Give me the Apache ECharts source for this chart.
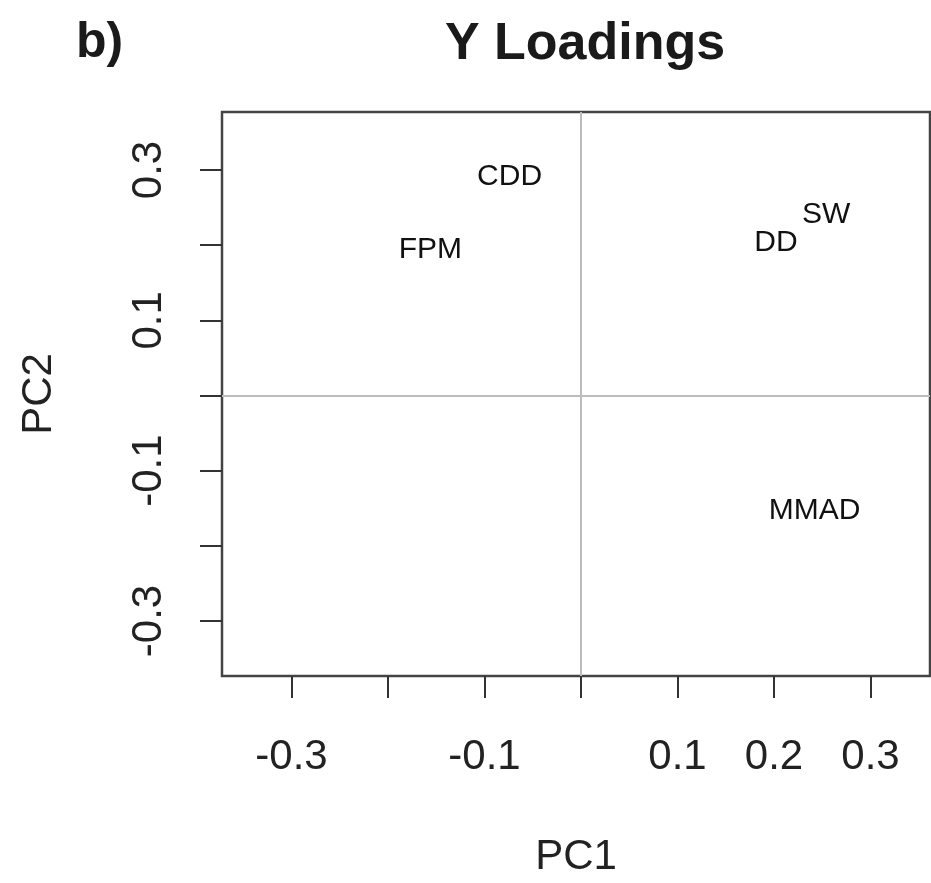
<!DOCTYPE html>
<html>
<head>
<meta charset="utf-8">
<script src="https://cdn.jsdelivr.net/npm/echarts@6/dist/echarts.min.js"></script>
<style>html,body{margin:0;padding:0;background:#fff}#c{width:931px;height:883px}</style>
</head>
<body>
<div id="c"></div>
<script>
// Data
const names = ['CDD', 'FPM', 'SW', 'DD', 'MMAD'];
const pc1 = [-0.074, -0.156, 0.254, 0.202, 0.242];
const pc2 = [0.291, 0.194, 0.241, 0.203, -0.153];
const tickValues = [-0.3, -0.2, -0.1, 0, 0.1, 0.2, 0.3];
const xLabelValues = [-0.3, -0.1, 0.1, 0.2, 0.3];
const yLabelValues = [-0.3, -0.1, 0.1, 0.3];

const chart = echarts.init(document.getElementById('c'), null, {renderer: 'canvas'});
const font = 'Liberation Sans, Arial, Helvetica, sans-serif';
const pts = names.map((n, i) => ({name: n, value: [pc1[i], pc2[i]]}));

chart.setOption({
  animation: false,
  backgroundColor: '#fff',
  title: {
    text: 'Y Loadings', left: 580, top: 14, textAlign: 'center',
    textStyle: {fontFamily: font, fontSize: 52, fontWeight: 'bold', color: '#1a1a1a'}
  },
  graphic: [{
    type: 'text', left: 76, top: 18,
    style: {text: 'b)', fontFamily: font, fontSize: 50, fontWeight: 'bold', fill: '#1a1a1a'}
  }],
  grid: {
    left: 222, top: 112, width: 708, height: 565,
    show: true, borderColor: '#444', borderWidth: 2.5, backgroundColor: 'transparent'
  },
  xAxis: {
    type: 'value', min: -0.372, max: 0.3617,
    name: 'PC1', nameLocation: 'middle', nameGap: 160,
    nameTextStyle: {fontFamily: font, fontSize: 42, color: '#222'},
    axisLine: {show: false, onZero: false},
    axisTick: {show: true, length: 22, customValues: tickValues, lineStyle: {color: '#333', width: 2}},
    axisLabel: {customValues: xLabelValues, margin: 60, fontFamily: font, fontSize: 42, color: '#222',
      formatter: v => String(Math.round(v * 10) / 10)},
    splitLine: {show: false}
  },
  yAxis: {
    type: 'value', min: -0.3732, max: 0.3772,
    name: 'PC2', nameLocation: 'middle', nameGap: 162, nameRotate: 90,
    nameTextStyle: {fontFamily: font, fontSize: 42, color: '#222'},
    axisLine: {show: false, onZero: false},
    axisTick: {show: true, length: 22, customValues: tickValues, lineStyle: {color: '#333', width: 2}},
    axisLabel: {customValues: yLabelValues, rotate: 90, margin: 52, fontFamily: font, fontSize: 42, color: '#222',
      formatter: v => String(Math.round(v * 10) / 10)},
    splitLine: {show: false}
  },
  series: [{
    type: 'scatter',
    data: pts,
    symbol: 'circle',
    symbolSize: 0,
    itemStyle: {color: '#fff'},
    label: {show: true, position: 'inside', formatter: p => p.name,
      fontFamily: font, fontSize: 30, color: '#111', textBorderWidth: 0, opacity: 1},
    markLine: {
      silent: true, symbol: 'none', label: {show: false},
      lineStyle: {color: '#bdbdbd', width: 2, type: 'solid'},
      data: [{xAxis: 0}, {yAxis: 0}]
    }
  }]
});
</script>
</body>
</html>
